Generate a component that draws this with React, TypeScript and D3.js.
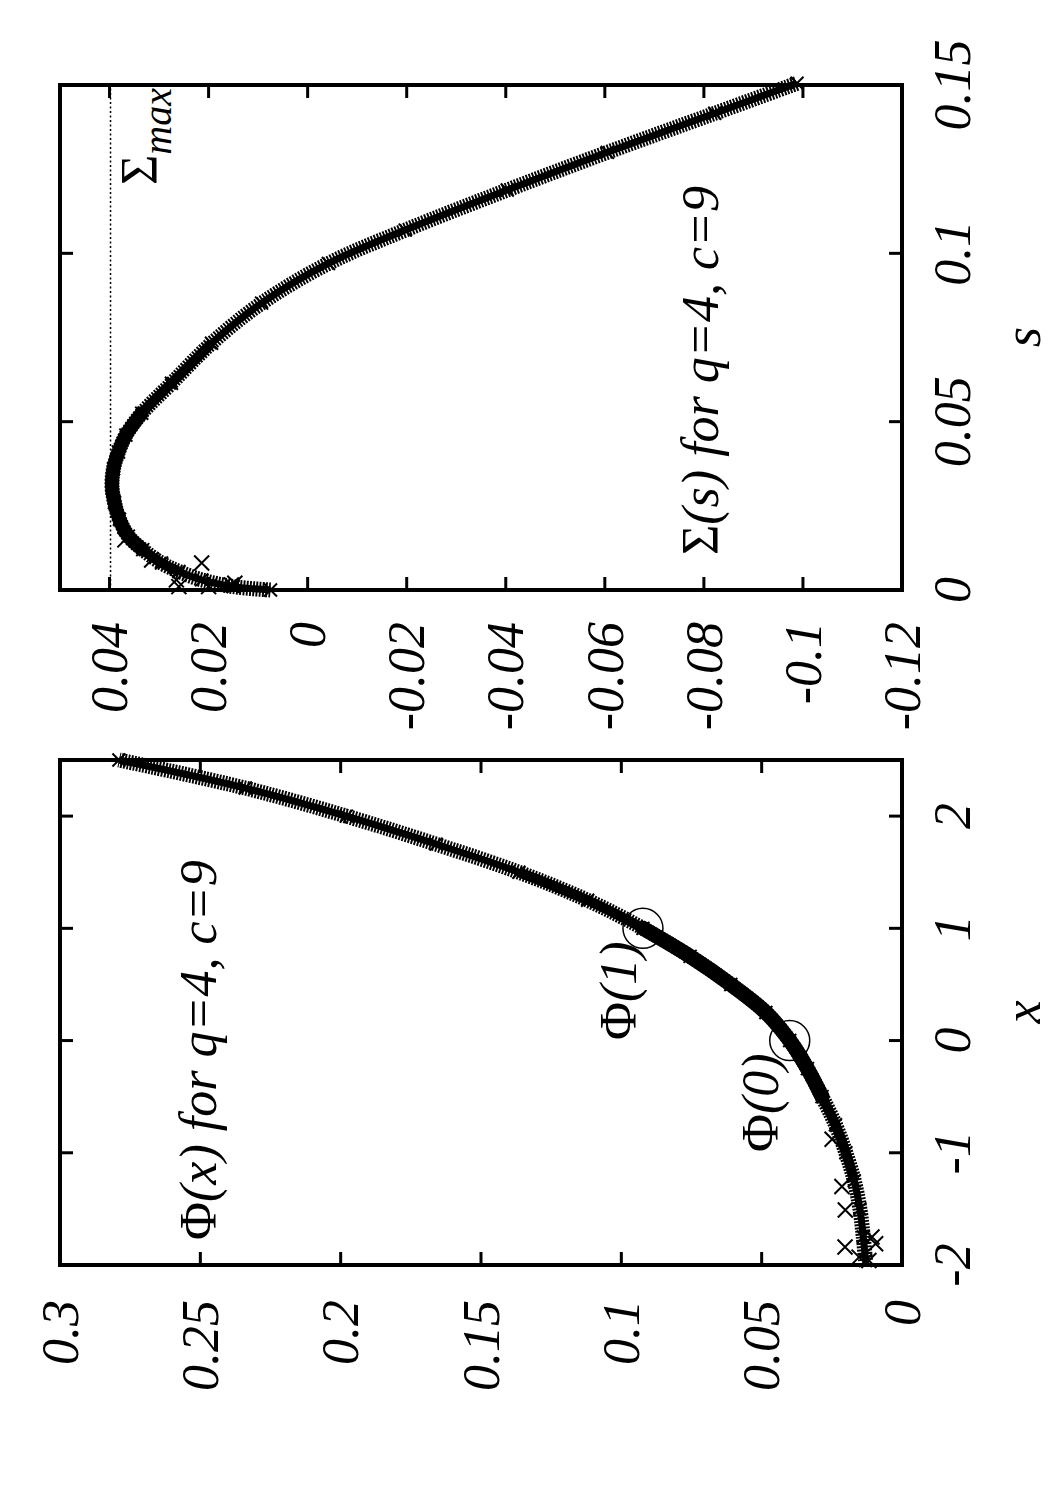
import React from "react";
import * as d3 from "d3";

// ---- Left panel: Phi(x) for q=4, c=9 ----
const phiXs = [-1.96, -1.75, -1.5, -1.25, -1.0, -0.75, -0.5, -0.25, 0, 0.25, 0.5, 0.75, 1.0, 1.25, 1.5, 1.75, 2.0, 2.25, 2.5];
const phiVals = [0.013, 0.0138, 0.015, 0.017, 0.02, 0.0237, 0.0285, 0.0337, 0.04, 0.0485, 0.061, 0.0755, 0.0923, 0.112, 0.1365, 0.166, 0.198, 0.234, 0.279];
const phiScatterXs = [-0.88, -1.3, -1.51, -1.75, -1.84, -1.81, -1.93, -1.96];
const phiScatterVals = [0.0249, 0.0214, 0.0202, 0.0107, 0.0203, 0.0094, 0.0153, 0.0118];
const phiMarkedXs = [0, 1];
const phiMarkedVals = [0.04, 0.0923];
const phiMarkedLabels = ["0", "1"];
const phiTicks = [0, 0.05, 0.1, 0.15, 0.2, 0.25, 0.3];
const phiTickLabels = ["0", "0.05", "0.1", "0.15", "0.2", "0.25", "0.3"];
const xTicks = [-2, -1, 0, 1, 2];
const xTickLabels = ["-2", "-1", "0", "1", "2"];

// ---- Right panel: Sigma(s) for q=4, c=9 ----
const sVals = [0, 0.001, 0.003, 0.0055, 0.008, 0.012, 0.016, 0.021, 0.026, 0.031, 0.036, 0.041, 0.046, 0.0525, 0.0614, 0.0733, 0.0852, 0.097, 0.1069, 0.1188, 0.13, 0.1416, 0.1505];
const sigmaVals = [0.0075, 0.015, 0.0214, 0.026, 0.0295, 0.0333, 0.0362, 0.038, 0.039, 0.0395, 0.0392, 0.0382, 0.0367, 0.0335, 0.0275, 0.0194, 0.0093, -0.0042, -0.0197, -0.0403, -0.0605, -0.0822, -0.0988];
const sScatter = [0.0149, 0.0089, 0.001, 0.008, 0.001, 0.002, 0.003, 0.0015];
const sigmaScatter = [0.0369, 0.0315, 0.026, 0.0214, 0.02, 0.0147, 0.0265, 0.0154];
const sigmaMax = 0.0398;
const sigmaTicks = [0.04, 0.02, 0, -0.02, -0.04, -0.06, -0.08, -0.1, -0.12];
const sigmaTickLabels = ["0.04", "0.02", "0", "-0.02", "-0.04", "-0.06", "-0.08", "-0.1", "-0.12"];
const sTicks = [0, 0.05, 0.1, 0.15];
const sTickLabels = ["0", "0.05", "0.1", "0.15"];

const FONT = "'Liberation Serif', 'Times New Roman', serif";
const FS = 52;

type P = { a: number; b: number };

function xMark(cx: number, cy: number, h: number, key: string) {
  return (
    <path
      key={key}
      d={`M${cx - h},${cy - h}L${cx + h},${cy + h}M${cx - h},${cy + h}L${cx + h},${cy - h}`}
      stroke="#000"
      strokeWidth={2}
      fill="none"
    />
  );
}

export default function App() {
  // Left panel scales (rotated page: Phi runs along image x, x along image y)
  const phiScale = d3.scaleLinear().domain([0, 0.3]).range([902, 60]);
  const xScale = d3.scaleLinear().domain([-2, 2.5]).range([1265, 760]);
  // Right panel scales
  const sigmaScale = d3.scaleLinear().domain([-0.12, 0.05]).range([902, 60]);
  const sScale = d3.scaleLinear().domain([0, 0.15]).range([590, 85]);

  const leftPts: P[] = phiXs.map((x, i) => ({ a: x, b: phiVals[i] }));
  const rightPts: P[] = sVals.map((s, i) => ({ a: s, b: sigmaVals[i] }));

  const leftLine = d3
    .line<P>()
    .x((d) => phiScale(d.b))
    .y((d) => xScale(d.a))
    .curve(d3.curveCatmullRom);
  const rightLine = d3
    .line<P>()
    .x((d) => sigmaScale(d.b))
    .y((d) => sScale(d.a))
    .curve(d3.curveCatmullRom);

  const leftMid = leftPts.filter((d) => d.a >= -1.25 && d.a <= 1.5);
  const leftDense = leftPts.filter((d) => d.a >= -0.5 && d.a <= 1.0);
  const rightMid = rightPts.filter((d) => d.a >= 0.0055 && d.a <= 0.0733);
  const rightDense = rightPts.filter((d) => d.a >= 0.012 && d.a <= 0.0525);

  const tick = 13;

  const band = (d: string, key: string) => (
    <g key={key}>
      <path d={d} stroke="#000" strokeWidth={15} strokeDasharray="1.9 1.3" fill="none" />
      <path d={d} stroke="#000" strokeWidth={7} fill="none" />
    </g>
  );

  return (
    <svg
      width={1050}
      height={1500}
      style={{ position: "absolute", left: 0, top: 0, background: "#fff" }}
      fontFamily={FONT}
    >
      <rect x={0} y={0} width={1050} height={1500} fill="#fff" />

      {/* ===== Right panel ===== */}
      <line
        x1={sigmaScale(sigmaMax)}
        x2={sigmaScale(sigmaMax)}
        y1={sScale(0)}
        y2={sScale(0.15)}
        stroke="#000"
        strokeWidth={1.5}
        strokeDasharray="2 2.5"
      />
      {band(rightLine(rightPts) || "", "rb")}
      <path d={rightLine(rightMid) || ""} stroke="#000" strokeWidth={10} fill="none" />
      <path d={rightLine(rightDense) || ""} stroke="#000" strokeWidth={14} fill="none" strokeLinecap="round" />
      {rightPts.map((d, i) => xMark(sigmaScale(d.b), sScale(d.a), 6.5, `rm${i}`))}
      {sScatter.map((s, i) => xMark(sigmaScale(sigmaScatter[i]), sScale(s), 7.5, `rs${i}`))}

      {sigmaTicks.map((v, i) => (
        <g key={`sgt${i}`}>
          <line x1={sigmaScale(v)} x2={sigmaScale(v)} y1={sScale(0)} y2={sScale(0) - tick} stroke="#000" strokeWidth={3} />
          <line x1={sigmaScale(v)} x2={sigmaScale(v)} y1={sScale(0.15)} y2={sScale(0.15) + tick} stroke="#000" strokeWidth={3} />
        </g>
      ))}
      {sTicks.map((v, i) => (
        <g key={`st${i}`}>
          <line x1={902} x2={902 - tick} y1={sScale(v)} y2={sScale(v)} stroke="#000" strokeWidth={3} />
          <line x1={60} x2={60 + tick} y1={sScale(v)} y2={sScale(v)} stroke="#000" strokeWidth={3} />
        </g>
      ))}
      <rect x={60} y={85} width={842} height={505} fill="none" stroke="#000" strokeWidth={4} />

      {sigmaTicks.map((v, i) => (
        <text
          key={`sgl${i}`}
          transform={`translate(${sigmaScale(v) + 0.34 * FS},${622}) rotate(-90)`}
          textAnchor="end"
          fontStyle="italic"
          fontSize={FS}
        >
          {sigmaTickLabels[i]}
        </text>
      ))}
      {sTicks.map((v, i) => (
        <text
          key={`sl${i}`}
          transform={`translate(${970},${sScale(v)}) rotate(-90)`}
          textAnchor="middle"
          fontStyle="italic"
          fontSize={FS}
        >
          {sTickLabels[i]}
        </text>
      ))}
      <text transform={`translate(1040,337) rotate(-90)`} textAnchor="middle" fontStyle="italic" fontSize={FS}>
        s
      </text>

      <text transform={`translate(718,555) rotate(-90)`} fontSize={FS}>
        <tspan>Σ</tspan>
        <tspan fontStyle="italic">(s) for q=4, c=9</tspan>
      </text>
      <text transform={`translate(157,185) rotate(-90)`} fontSize={FS}>
        <tspan>Σ</tspan>
        <tspan fontStyle="italic" fontSize={40} dy={14}>
          max
        </tspan>
      </text>

      {/* ===== Left panel ===== */}
      {band(leftLine(leftPts) || "", "lb")}
      <path d={leftLine(leftMid) || ""} stroke="#000" strokeWidth={10} fill="none" />
      <path d={leftLine(leftDense) || ""} stroke="#000" strokeWidth={15} fill="none" strokeLinecap="round" />
      {leftPts.map((d, i) => xMark(phiScale(d.b), xScale(d.a), 6.5, `lm${i}`))}
      {phiScatterXs.map((x, i) => xMark(phiScale(phiScatterVals[i]), xScale(x), 7.5, `ls${i}`))}

      {phiMarkedXs.map((x, i) => (
        <circle key={`c${i}`} cx={phiScale(phiMarkedVals[i])} cy={xScale(x)} r={20} fill="none" stroke="#000" strokeWidth={1.5} />
      ))}

      {phiTicks.map((v, i) => (
        <g key={`pt${i}`}>
          <line x1={phiScale(v)} x2={phiScale(v)} y1={xScale(-2)} y2={xScale(-2) - tick} stroke="#000" strokeWidth={3} />
          <line x1={phiScale(v)} x2={phiScale(v)} y1={xScale(2.5)} y2={xScale(2.5) + tick} stroke="#000" strokeWidth={3} />
        </g>
      ))}
      {xTicks.map((v, i) => (
        <g key={`xt${i}`}>
          <line x1={902} x2={902 - tick} y1={xScale(v)} y2={xScale(v)} stroke="#000" strokeWidth={3} />
          <line x1={60} x2={60 + tick} y1={xScale(v)} y2={xScale(v)} stroke="#000" strokeWidth={3} />
        </g>
      ))}
      <rect x={60} y={760} width={842} height={505} fill="none" stroke="#000" strokeWidth={4} />

      {phiTicks.map((v, i) => (
        <text
          key={`pl${i}`}
          transform={`translate(${phiScale(v) + 0.34 * FS},${1300}) rotate(-90)`}
          textAnchor="end"
          fontStyle="italic"
          fontSize={FS}
        >
          {phiTickLabels[i]}
        </text>
      ))}
      {xTicks.map((v, i) => (
        <text
          key={`xl${i}`}
          transform={`translate(${970},${xScale(v)}) rotate(-90)`}
          textAnchor="middle"
          fontStyle="italic"
          fontSize={FS}
        >
          {xTickLabels[i]}
        </text>
      ))}
      <text transform={`translate(1040,1012) rotate(-90)`} textAnchor="middle" fontStyle="italic" fontSize={FS}>
        x
      </text>

      <text transform={`translate(216,1240) rotate(-90)`} fontSize={FS}>
        <tspan>Φ</tspan>
        <tspan fontStyle="italic">(x) for q=4, c=9</tspan>
      </text>
      {phiMarkedXs.map((x, i) => (
        <text
          key={`ml${i}`}
          transform={`translate(${i === 0 ? 778 : 636},${i === 0 ? 1152 : 1040}) rotate(-90)`}
          fontSize={FS}
        >
          <tspan>Φ</tspan>
          <tspan fontStyle="italic">({phiMarkedLabels[i]})</tspan>
        </text>
      ))}
    </svg>
  );
}
